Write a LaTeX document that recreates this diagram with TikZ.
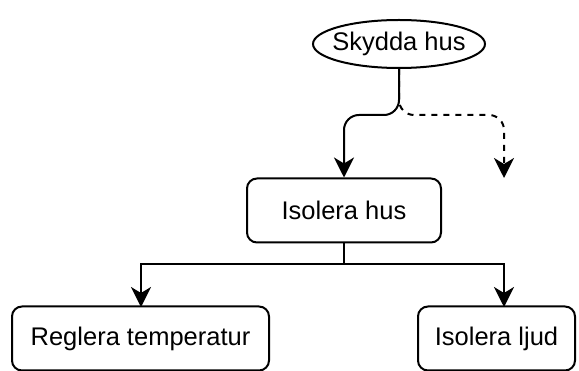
\documentclass[tikz,border=0pt]{standalone}
\usepackage{fontspec}
\setmainfont{Liberation Sans}
\usetikzlibrary{arrows.meta,shapes.geometric}
\begin{document}
\begin{tikzpicture}[x=1pt,y=-1pt,
  line width=2pt,
  every node/.style={font=\fontsize{25.5}{30}\selectfont, inner sep=0pt},
  goal/.style={draw, ellipse, minimum width=172pt, minimum height=48pt},
  task/.style={draw, rounded corners=10pt, minimum height=64pt},
  edge/.style={-{Stealth[length=20pt,width=20pt,inset=6pt]}},
  fork/.style={edge, rounded corners=15pt}
]
\useasboundingbox (0,0) rectangle (579,371);

% the goal ellipse keeps its own size, so its label takes no width
\node[goal] (sky) at (399,44) {\makebox[0pt]{Skydda hus}};
\node[task, minimum width=194pt] (hus) at (344,210.5) {Isolera hus};
\node[task, minimum width=257pt] (temp) at (140.5,338.5) {Reglera temperatur};
\node[task, minimum width=157pt] (ljud) at (496.5,338.5) {Isolera ljud};

% branch point below the goal and the open end of the dashed branch
\coordinate (split) at (399,115);
\coordinate (open) at (504,178);
\coordinate (bus) at (344,264);

\draw[fork] (sky.south) -- (split) -| (hus.north);
\draw[fork, dash pattern=on 6pt off 6pt] (sky.south) -- (split) -| (open);

\draw[edge] (hus.south) -- (bus) -| (141,307);
\draw[edge] (bus) -| (504,307);
\end{tikzpicture}
\end{document}
